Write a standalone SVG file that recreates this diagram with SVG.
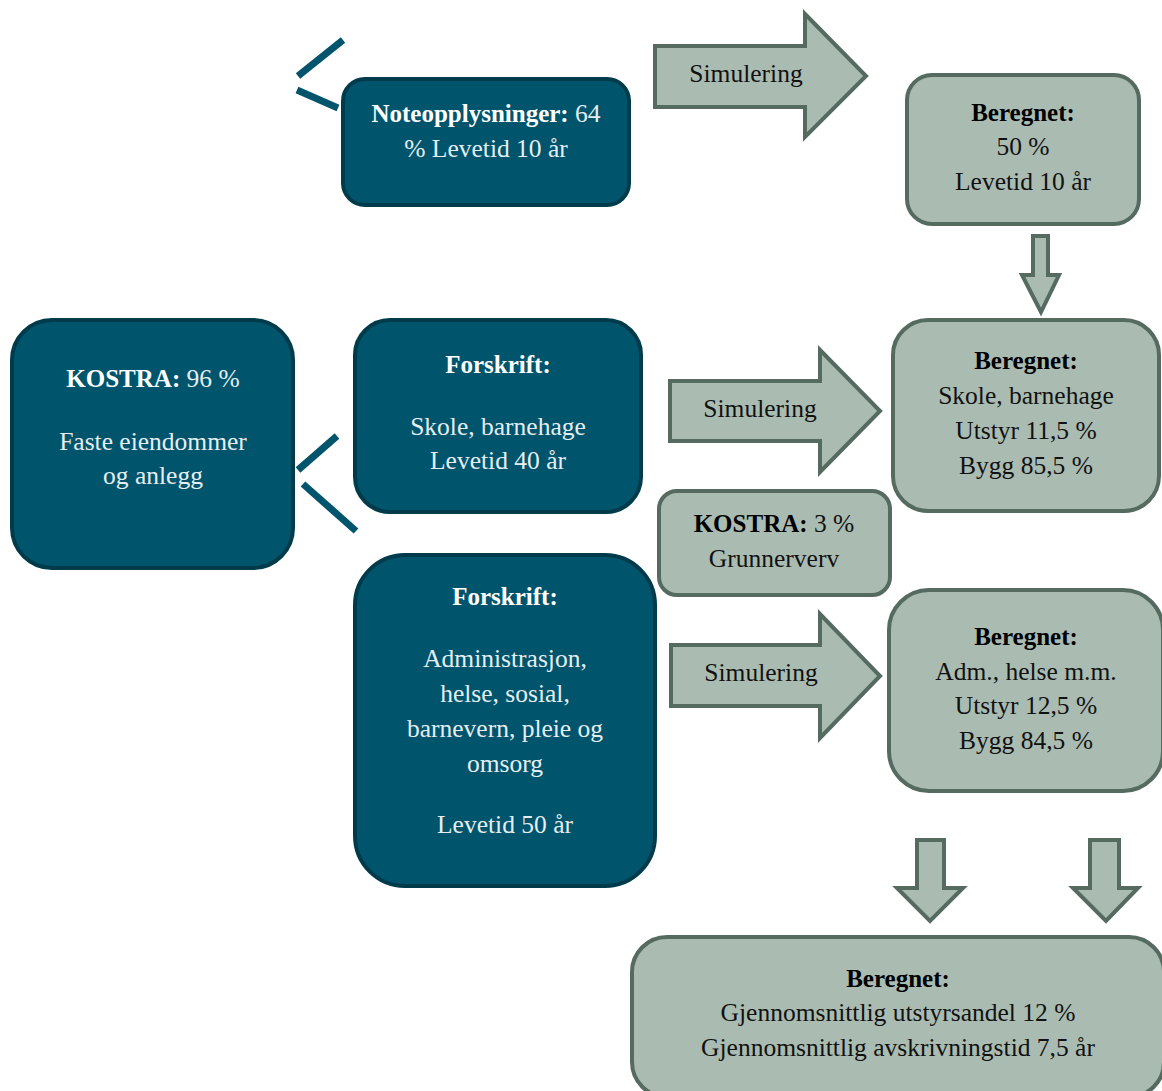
<svg xmlns="http://www.w3.org/2000/svg" width="1162" height="1091" viewBox="0 0 1162 1091">
<style>
.dark{fill:#00546C;stroke:#003B4C;stroke-width:4}
.sage{fill:#AABCB2;stroke:#566B5F;stroke-width:4}
.arr{fill:#AABCB2;stroke:#566B5F;stroke-width:4;stroke-linejoin:miter}
.slash{stroke:#00546C;stroke-width:7;fill:none}
text{font-size:25.5px;text-anchor:middle}
.w{fill:#E6EEF1}
.wb{fill:#FFFFFF;font-weight:bold;font-size:25px}
.k{fill:#111111}
.kb{fill:#000000;font-weight:bold;font-size:25px}
</style>
<g font-family="'Liberation Serif', 'DejaVu Serif', serif">
<g id="connectors">
<line class="slash" x1="343" y1="40" x2="298" y2="76"/>
<line class="slash" x1="297" y1="90" x2="338" y2="108"/>
<line class="slash" x1="337" y1="436" x2="298" y2="470"/>
<line class="slash" x1="303" y1="484" x2="356" y2="531"/>
<g id="arrow-sim1"><polygon class="arr" points="655,46 805,46 805,14 866,76 805,137 805,107 655,107"/><text class="k" x="746" y="82">Simulering</text></g>
<g id="arrow-down1"><polygon class="arr" points="1033,236 1048,236 1048,275 1059,275 1041,312 1022,275 1033,275"/></g>
<g id="arrow-sim2"><polygon class="arr" points="670,381 820,381 820,350 880,411 820,472 820,441 670,441"/><text class="k" x="760" y="417">Simulering</text></g>
<g id="arrow-sim3"><polygon class="arr" points="671,645 820,645 820,614 880,676 820,738 820,706 671,706"/><text class="k" x="761" y="681">Simulering</text></g>
<g id="arrow-down2"><polygon class="arr" points="917,840 944,840 944,888 963,888 930,921 897,888 917,888"/></g>
<g id="arrow-down3"><polygon class="arr" points="1090,840 1119,840 1119,888 1138,888 1106,921 1073,888 1090,888"/></g>
</g>
<g id="note">
<rect class="dark" x="343" y="79" width="286" height="126" rx="22"/>
<text x="486" y="122"><tspan class="wb">Noteopplysninger:</tspan><tspan class="w"> 64</tspan></text>
<text class="w" x="486" y="157">% Levetid 10 år</text>
</g>
<g id="beregnet1">
<rect class="sage" x="907" y="75" width="232" height="149" rx="25"/>
<text class="kb" x="1023" y="121">Beregnet:</text>
<text class="k" x="1023" y="155">50 %</text>
<text class="k" x="1023" y="190">Levetid 10 år</text>
</g>
<g id="kostra96">
<rect class="dark" x="12" y="320" width="281" height="248" rx="40"/>
<text x="153" y="387"><tspan class="wb">KOSTRA:</tspan><tspan class="w"> 96 %</tspan></text>
<text class="w" x="153" y="450">Faste eiendommer</text>
<text class="w" x="153" y="484">og anlegg</text>
</g>
<g id="forskrift1">
<rect class="dark" x="355" y="320" width="286" height="192" rx="35"/>
<text class="wb" x="498" y="373">Forskrift:</text>
<text class="w" x="498" y="435">Skole, barnehage</text>
<text class="w" x="498" y="469">Levetid 40 år</text>
</g>
<g id="beregnet2">
<rect class="sage" x="893" y="320" width="266" height="191" rx="35"/>
<text class="kb" x="1026" y="369">Beregnet:</text>
<text class="k" x="1026" y="404">Skole, barnehage</text>
<text class="k" x="1026" y="439">Utstyr 11,5 %</text>
<text class="k" x="1026" y="474">Bygg 85,5 %</text>
</g>
<g id="kostra3">
<rect class="sage" x="659" y="491" width="231" height="104" rx="18"/>
<text x="774" y="532"><tspan class="kb">KOSTRA:</tspan><tspan class="k"> 3 %</tspan></text>
<text class="k" x="774" y="567">Grunnerverv</text>
</g>
<g id="forskrift2">
<rect class="dark" x="355" y="555" width="300" height="331" rx="50"/>
<text class="wb" x="505" y="605">Forskrift:</text>
<text class="w" x="505" y="667">Administrasjon,</text>
<text class="w" x="505" y="702">helse, sosial,</text>
<text class="w" x="505" y="737">barnevern, pleie og</text>
<text class="w" x="505" y="772">omsorg</text>
<text class="w" x="505" y="833">Levetid 50 år</text>
</g>
<g id="beregnet3">
<rect class="sage" x="889" y="590" width="274" height="201" rx="40"/>
<text class="kb" x="1026" y="645">Beregnet:</text>
<text class="k" x="1026" y="680">Adm., helse m.m.</text>
<text class="k" x="1026" y="714">Utstyr 12,5 %</text>
<text class="k" x="1026" y="749">Bygg 84,5 %</text>
</g>
<g id="beregnet4">
<rect class="sage" x="632" y="937" width="532" height="160" rx="35"/>
<text class="kb" x="898" y="987">Beregnet:</text>
<text class="k" x="898" y="1021">Gjennomsnittlig utstyrsandel 12 %</text>
<text class="k" x="898" y="1056">Gjennomsnittlig avskrivningstid 7,5 år</text>
</g>
</g>
</svg>
